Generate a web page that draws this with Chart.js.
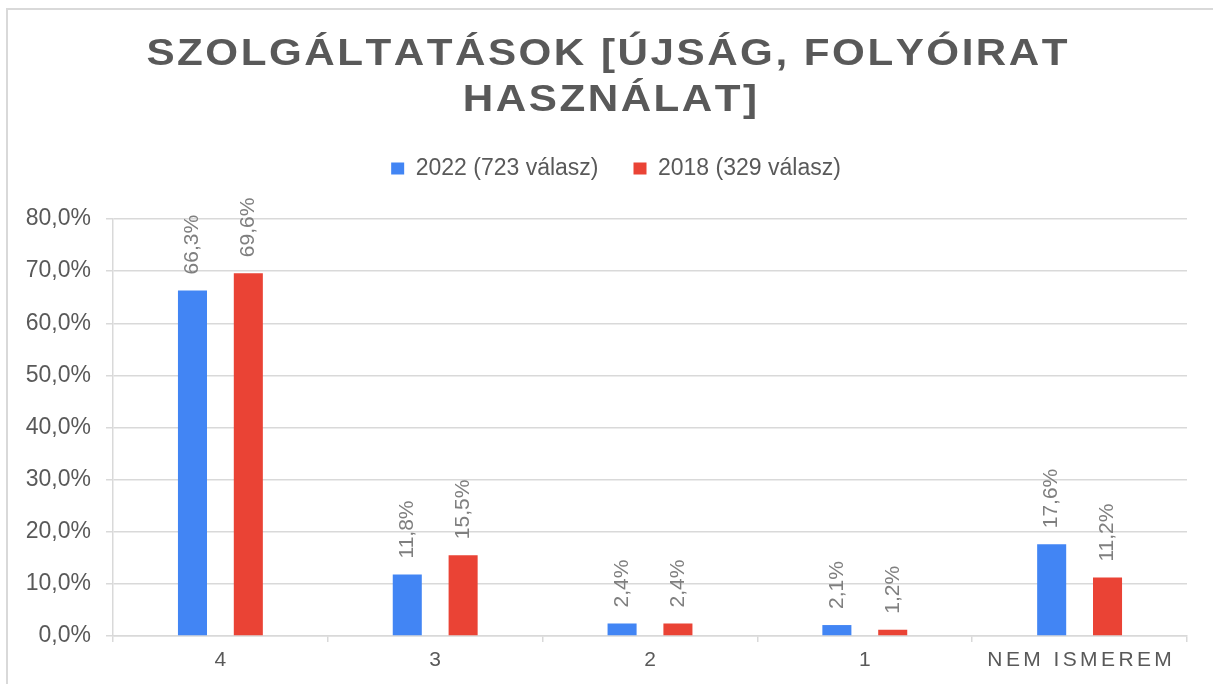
<!DOCTYPE html>
<html>
<head>
<meta charset="utf-8">
<script src="https://cdn.jsdelivr.net/npm/chart.js@4"></script>
<style>
  html, body { margin: 0; padding: 0; background: #fff; overflow: hidden; }
  #frame { position: absolute; left: 6px; top: 8px; width: 1300px; height: 800px; border: 2px solid #d9d9d9; }
  #wrap { position: absolute; left: 0; top: 0; width: 1213px; height: 684px; }
</style>
</head>
<body>
<div id="frame"></div>
<div id="wrap"><canvas id="myChart" width="1213" height="684"></canvas></div>
<script>
const titleLines = ['SZOLGÁLTATÁSOK [ÚJSÁG, FOLYÓIRAT', 'HASZNÁLAT]'];
const categories = ['4', '3', '2', '1', 'NEM ISMEREM'];
const seriesNames = ['2022 (723 válasz)', '2018 (329 válasz)'];
const values2022 = [66.3, 11.8, 2.4, 2.1, 17.6];
const values2018 = [69.6, 15.5, 2.4, 1.2, 11.2];
const yTicks = [0, 10, 20, 30, 40, 50, 60, 70, 80];

const FONT = "'Liberation Sans', Arial, sans-serif";
const textGray = '#595959';
const gridGray = '#d9d9d9';

function pct(v) {
  return v.toFixed(1).replace('.', ',') + '%';
}

// draws text one letter at a time so we get the wide spacing of the original
// stretch widens the letters (the title font in the original is wider than Arial)
function drawSpaced(ctx, text, cx, y, spacing, stretch) {
  stretch = stretch || 1;
  const chars = [...text];
  const widths = chars.map(c => ctx.measureText(c).width);
  const sp = spacing / stretch;
  const total = widths.reduce((a, b) => a + b, 0) + sp * (chars.length - 1);
  ctx.save();
  ctx.translate(cx, y);
  ctx.scale(stretch, 1);
  let x = -total / 2;
  ctx.textAlign = 'left';
  chars.forEach((c, i) => {
    ctx.fillText(c, x, 0);
    x += widths[i] + sp;
  });
  ctx.restore();
}

const titlePlugin = {
  id: 'spacedTitle',
  afterDraw(chart) {
    const ctx = chart.ctx;
    ctx.save();
    ctx.font = 'bold 37px ' + FONT;
    ctx.fillStyle = textGray;
    ctx.textBaseline = 'alphabetic';
    drawSpaced(ctx, titleLines[0], 607, 65, 2.5, 1.14);
    drawSpaced(ctx, titleLines[1], 610, 111, 2.5, 1.14);
    ctx.restore();
  }
};

const xLabelPlugin = {
  id: 'xLabels',
  afterDraw(chart) {
    const ctx = chart.ctx;
    const xs = chart.scales.x;
    ctx.save();
    ctx.font = '21px ' + FONT;
    ctx.fillStyle = textGray;
    ctx.textBaseline = 'middle';
    categories.forEach((c, i) => {
      drawSpaced(ctx, c, xs.getPixelForValue(i), xs.top + 24, 3.4);
    });
    ctx.restore();
  }
};

const valueLabelPlugin = {
  id: 'valueLabels',
  afterDatasetsDraw(chart) {
    const ctx = chart.ctx;
    ctx.save();
    ctx.font = '21px ' + FONT;
    ctx.fillStyle = '#7f7f7f';
    ctx.textAlign = 'left';
    ctx.textBaseline = 'middle';
    chart.data.datasets.forEach((ds, d) => {
      chart.getDatasetMeta(d).data.forEach((bar, i) => {
        ctx.save();
        ctx.translate(bar.x, bar.y - 16);
        ctx.rotate(-Math.PI / 2);
        ctx.fillText(pct(ds.data[i]), 0, 0);
        ctx.restore();
      });
    });
    ctx.restore();
  }
};

// legend sits in a tall box so there is room under it, and a bit right of centre
const legendSpacing = {
  id: 'legendSpacing',
  beforeInit(chart) {
    const legend = chart.legend;
    const origFit = legend.fit;
    legend.fit = function () {
      origFit.call(this);
      this.height = 97;
    };
  },
  afterLayout(chart) {
    const l = chart.legend;
    const shift = 616 - (l.left + l.right) / 2;
    l.left += shift;
    l.right += shift;
  }
};

const chart = new Chart(document.getElementById('myChart'), {
  type: 'bar',
  data: {
    labels: categories,
    datasets: [
      {
        label: seriesNames[0],
        data: values2022,
        backgroundColor: '#4285f4',
        borderWidth: 0,
        categoryPercentage: 0.52,
        barPercentage: 0.52,
      },
      {
        label: seriesNames[1],
        data: values2018,
        backgroundColor: '#ea4335',
        borderWidth: 0,
        categoryPercentage: 0.52,
        barPercentage: 0.52,
      },
    ],
  },
  options: {
    responsive: false,
    animation: false,
    layout: { padding: { top: 122, left: 0, right: 26, bottom: 0 } },
    plugins: {
      title: { display: false },
      tooltip: { enabled: false },
      legend: {
        position: 'top',
        labels: {
          color: textGray,
          font: { family: FONT, size: 23 },
          boxWidth: 13,
          boxHeight: 12,
          padding: 35,
        },
      },
    },
    scales: {
      x: {
        grid: {
          display: true,
          drawOnChartArea: false,
          drawTicks: true,
          tickLength: 6,
          offset: true,
          color: gridGray,
          lineWidth: 1.5,
        },
        border: { display: true, color: gridGray, width: 1.5 },
        ticks: { display: false },
        afterFit(scale) { scale.height = 48; },
      },
      y: {
        min: 0,
        max: 80,
        grid: { color: gridGray, lineWidth: 1.5, tickLength: 7 },
        border: { display: true, color: gridGray, width: 1.5 },
        afterBuildTicks(scale) { scale.ticks = yTicks.map(v => ({ value: v })); },
        ticks: {
          color: textGray,
          font: { family: FONT, size: 23 },
          padding: 15,
          callback: v => pct(v),
        },
        afterFit(scale) { scale.width = 113; },
      },
    },
  },
  plugins: [legendSpacing, valueLabelPlugin, xLabelPlugin, titlePlugin],
});
</script>
</body>
</html>
